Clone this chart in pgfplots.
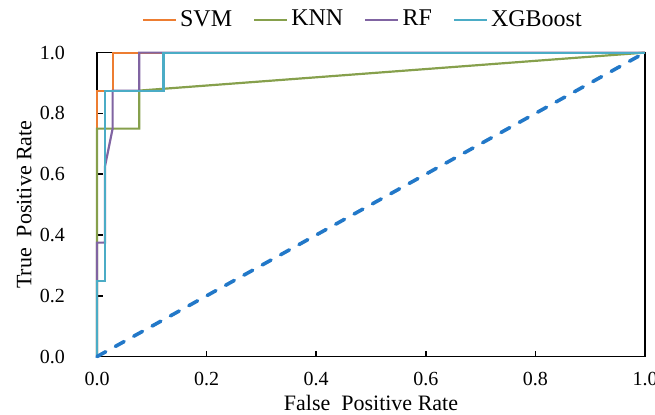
\documentclass[border=0pt]{standalone}
\usepackage{fontspec}
\setmainfont{Liberation Serif}
\usepackage{pgfplots}
\pgfplotsset{compat=1.18}
\definecolor{svm}{HTML}{ED7D31}
\definecolor{knn}{HTML}{86A04C}
\definecolor{rf}{HTML}{8064A2}
\definecolor{xgb}{HTML}{4BACC6}
\definecolor{diag}{HTML}{2278C8}

\begin{document}
\begin{tikzpicture}
\begin{axis}[
  name=ax,
  scale only axis,
  width=274bp,
  height=152bp,
  xmin=0, xmax=1, ymin=0, ymax=1,
  xtick={0,0.2,0.4,0.6,0.8,1},
  ytick={0,0.2,0.4,0.6,0.8,1},
  xtick pos=bottom, ytick pos=left,
  tick align=inside,
  major tick length=3bp,
  tick style={black, line width=0.8pt},
  axis line style={black, line width=0.9pt},
  clip=false,
  /pgf/number format/assume math mode=true,
  xticklabel style={/pgf/number format/.cd, fixed, fixed zerofill, precision=1, /tikz/.cd, yshift=-4.5bp},
  yticklabel style={/pgf/number format/.cd, fixed, fixed zerofill, precision=1, /tikz/.cd, xshift=-12.5bp},
  tick label style={font=\fontsize{10bp}{12bp}\selectfont},
  label style={font=\fontsize{11bp}{13bp}\selectfont},
  xlabel={False\ \ Positive Rate},
  ylabel={True\ \ Positive Rate},
  xlabel style={at={(axis description cs:0.5,0)}, anchor=center, yshift=-23bp},
  ylabel style={at={(axis description cs:-0.133,0.5)}, anchor=center},
  legend columns=4,
  legend style={at={(0.486,1)}, anchor=center, yshift=16.5bp, draw=none, fill=none,
    font=\fontsize{12bp}{14bp}\selectfont, inner sep=0pt,
    /tikz/every even column/.append style={column sep=9bp},
    nodes={inner sep=1.5bp}},
  legend image code/.code={\draw[#1] (0bp,0bp) -- (16.5bp,0bp);},
]
\addplot[svm, line width=1.1pt] coordinates {
  (0,0) (0,0.875) (0.0285,0.875) (0.0285,1) (1,1)
};
\addlegendentry{SVM}
\addplot[knn, line width=1.1pt] coordinates {
  (0,0) (0,0.75) (0.077,0.75) (0.077,0.875) (1,1)
};
\addlegendentry{KNN}
\addplot[rf, line width=1.1pt] coordinates {
  (0,0) (0,0.375) (0.0145,0.375) (0.0145,0.625) (0.0285,0.75) (0.0285,0.875) (0.077,0.875) (0.077,1) (1,1)
};
\addlegendentry{RF}
\addplot[xgb, line width=1.1pt] coordinates {
  (0,0) (0,0.25) (0.0145,0.25) (0.0145,0.875) (0.1215,0.875) (0.1215,1) (1,1)
};
\addlegendentry{XGBoost}
\addplot[diag, line width=1.8pt, line cap=round, dash pattern=on 5bp off 5.5bp, forget plot] coordinates {
  (0,0) (1,1)
};
\end{axis}
\pgfresetboundingbox
\path[use as bounding box] ([shift={(-48.5bp,-29.2bp)}]ax.south west) rectangle ([shift={(5bp,26.3bp)}]ax.north east);
\end{tikzpicture}
\end{document}
